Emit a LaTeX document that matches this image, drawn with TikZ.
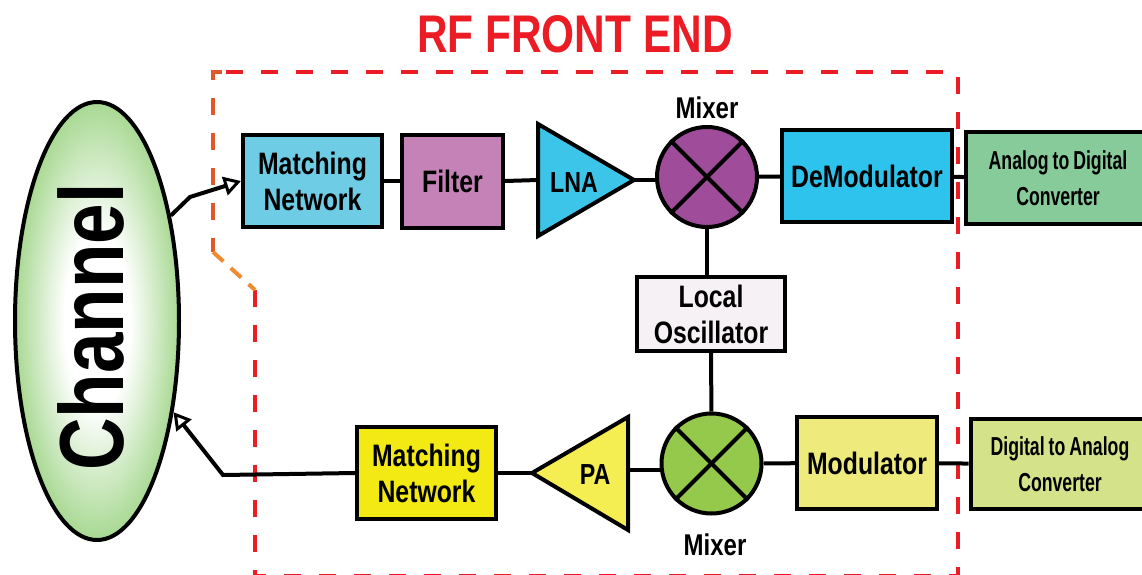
\documentclass[tikz,border=0pt]{standalone}
\usepackage{fontspec}
\setmainfont{Liberation Sans}[FakeStretch=0.8]
\newfontfamily\narrowfont{Liberation Sans}[FakeStretch=0.68]
\newcommand\convfont{\narrowfont\bfseries\fontsize{26}{36}\selectfont}
\newcommand\nsp{\hspace{4pt}}
\usetikzlibrary{shapes.geometric,arrows.meta}
\definecolor{rfred}{HTML}{EC1C24}
\definecolor{rforange}{HTML}{E0582A}
\definecolor{rforange2}{HTML}{EE8A30}
\definecolor{mnblue}{HTML}{6ECCE5}
\definecolor{filtcol}{HTML}{C482B7}
\definecolor{lnacol}{HTML}{3CC5E8}
\definecolor{mixpurple}{HTML}{9F4C9B}
\definecolor{demodcol}{HTML}{2DC3EC}
\definecolor{adccol}{HTML}{87CB9B}
\definecolor{locol}{HTML}{F6F1F4}
\definecolor{mixgreen}{HTML}{95C94C}
\definecolor{modcol}{HTML}{EEEB7C}
\definecolor{daccol}{HTML}{D4E28A}
\definecolor{pacol}{HTML}{F4EE52}
\definecolor{mnyellow}{HTML}{F2EA12}
\definecolor{chgreen}{HTML}{6EBF4A}
\pgfdeclareradialshading{chshade}{\pgfpoint{0bp}{0bp}}{color(0bp)=(white); color(10bp)=(white); color(35bp)=(chgreen); color(50bp)=(chgreen)}
\tikzset{
  blk/.style={draw=black, line width=4pt, rectangle, inner sep=0pt, align=center,
    font=\bfseries\fontsize{31}{36}\selectfont},
  conv/.style={draw=black, line width=4pt, rectangle, inner sep=0pt, align=center,
    font=\convfont},
  mixer/.style={draw=black, line width=4pt, circle, minimum size=100pt, inner sep=0pt},
  tri/.style={draw=black, line width=4pt, line join=miter},
  lbl/.style={inner sep=0pt, font=\bfseries\fontsize{30}{36}\selectfont},
  wire/.style={draw=black, line width=4pt},
  arr/.style={wire, -{Triangle[open,length=17pt,width=19pt,line width=3pt]}},
  reddash/.style={draw=rfred, line width=4pt, dash pattern=on 17pt off 18pt},
}
\begin{document}
\begin{tikzpicture}[x=1pt,y=-1pt]
\clip (0,0) rectangle (1142,575);
% RF front end boundary
\draw[reddash, rounded corners=4pt] (226,72) -- (958,72) -- (958,580);
\draw[reddash] (255,290) -- (255,576) -- (958,576);
\draw[draw=rforange, line width=4pt, dash pattern=on 17pt off 18pt] (222,72) -- (213,72) -- (213,252);
\draw[draw=rforange2, line width=4pt, dash pattern=on 14pt off 10pt] (213,252) -- (255,290);
% title
\node[inner sep=0pt, text=rfred, font=\bfseries\fontsize{53}{60}\selectfont] (title) at (575,34) {RF FRONT END};
% channel
\node[ellipse, draw=black, line width=4pt, shading=chshade, minimum width=164pt, minimum height=438pt, inner sep=0pt] (chan) at (97,321) {};
\node[rotate=90, inner sep=0pt, font=\bfseries\fontsize{91}{100}\selectfont] (chtxt) at (90.5,327) {Channel};
% receive chain
\node[blk, fill=mnblue, minimum width=139pt, minimum height=92pt] (mn1) at (312.5,181) {Matching\\Network};
\node[blk, fill=filtcol, minimum width=101pt, minimum height=93pt] (filt) at (452.5,181) {Filter};
\draw[tri, fill=lnacol] (538,124) -- (634,180) -- (538,236) -- cycle;
\coordinate (lnaIn) at (538,180);
\coordinate (lnaOut) at (634,180);
\node[lbl, font=\bfseries\fontsize{29}{36}\selectfont] (lna) at (574,183) {LNA};
\node[mixer, fill=mixpurple] (mixA) at (707,177) {};
\draw[wire] (mixA.45) -- (mixA.225);
\draw[wire] (mixA.135) -- (mixA.315);
\node[lbl] (mixAl) at (707,108) {Mixer};
\node[blk, fill=demodcol, minimum width=170pt, minimum height=92pt] (demod) at (867,176) {DeModulator};
\node[conv, fill=adccol, minimum width=184pt, minimum height=92pt] (adc) at (1058,178) {Analog\nsp to\nsp Digital\\Converter};
% local oscillator
\node[blk, fill=locol, minimum width=148pt, minimum height=74pt] (lo) at (711,314) {Local\\Oscillator};
% transmit chain
\node[mixer, fill=mixgreen] (mixB) at (711.5,463.5) {};
\draw[wire] (mixB.45) -- (mixB.225);
\draw[wire] (mixB.135) -- (mixB.315);
\node[lbl] (mixBl) at (715,545) {Mixer};
\node[blk, fill=modcol, minimum width=140pt, minimum height=92pt] (mod) at (867,463) {Modulator};
\node[conv, fill=daccol, minimum width=179pt, minimum height=90pt] (dac) at (1060,464) {Digital\nsp to\nsp Analog\\Converter};
\draw[tri, fill=pacol] (628,417) -- (532,473) -- (628,530) -- cycle;
\coordinate (paIn) at (628,470);
\coordinate (paOut) at (532,473);
\node[lbl, font=\bfseries\fontsize{29}{36}\selectfont] (pa) at (595,475) {PA};
\node[blk, fill=mnyellow, minimum width=139pt, minimum height=92pt] (mn2) at (426.5,473) {Matching\\Network};
% connectors
\draw[arr] (chan.55) -- (190,197) -- (mn1.west);
\draw[wire] (mn1) -- (filt);
\draw[wire] (filt.east) -- (lnaIn);
\draw[wire] (lnaOut) -- (lnaOut -| mixA.west);
\draw[wire] (mixA) -- (demod);
\draw[wire] (demod) -- (adc);
\draw[wire] (mixA.south) -- (mixA.south |- lo.north);
\draw[wire] (lo) -- (mixB);
\draw[wire] (mod) -- (mixB);
\draw[wire] (mod) -- (dac);
\draw[wire] (paIn) -- (paIn -| mixB.west);
\draw[wire] (paOut) -- (mn2.east);
\draw[arr] (mn2.west) -- (223,475) -- (chan.-50);
\end{tikzpicture}
\end{document}
